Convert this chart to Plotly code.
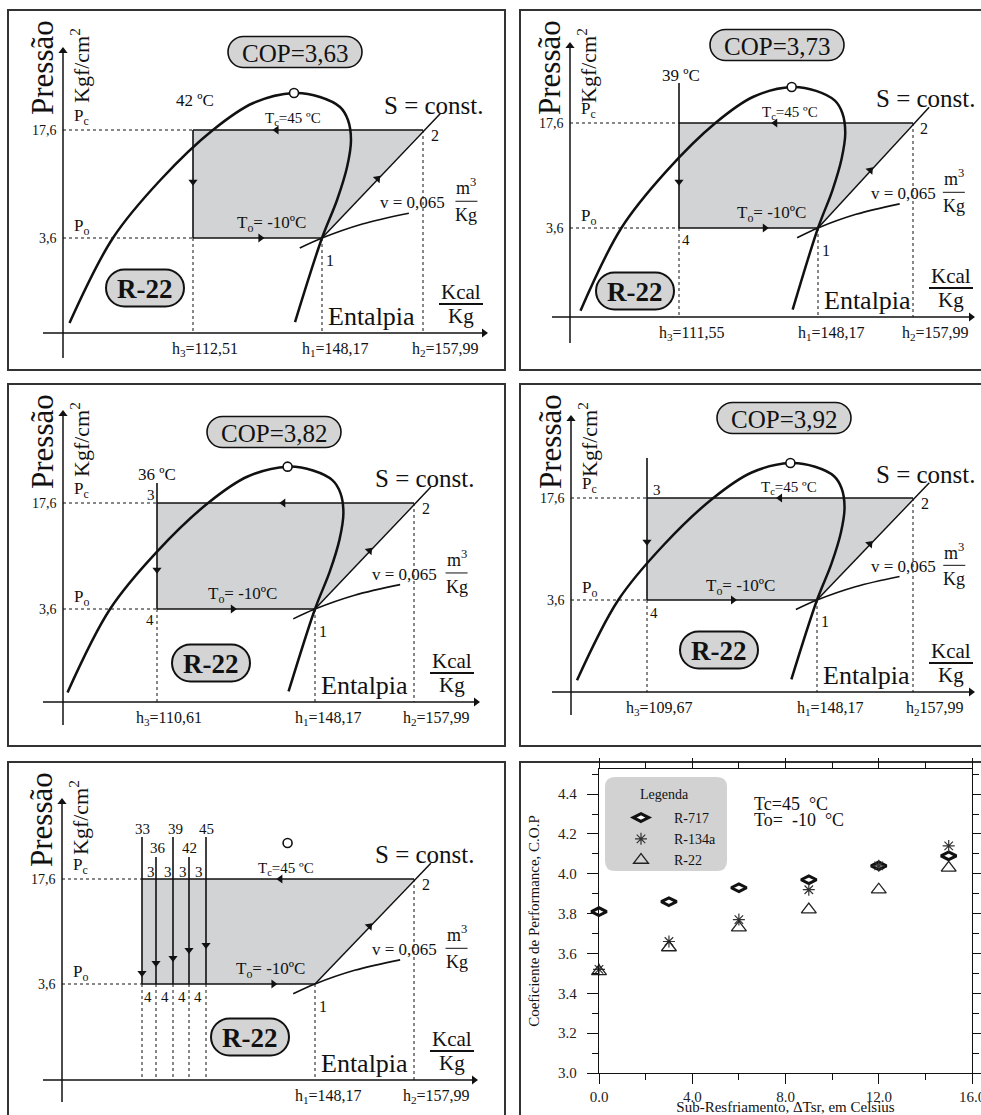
import math
import plotly.graph_objects as go

# ---------------- data ----------------
SUBCOOLING = [0, 3, 6, 9, 12, 15]
COP_R717 = [3.81, 3.86, 3.93, 3.97, 4.04, 4.09]
COP_R134A = [3.52, 3.66, 3.77, 3.92, 4.04, 4.14]
COP_R22 = [3.51, 3.63, 3.73, 3.82, 3.92, 4.03]
SERIES = ['R-717', 'R-134a', 'R-22']

PANEL_COP = ['COP=3,63', 'COP=3,73', 'COP=3,82', 'COP=3,92', None]
PANEL_TEMPS = [['42 ºC'], ['39 ºC'], ['36 ºC'], [], ['33', '36', '39', '42', '45']]
PANEL_H3 = ['h<sub>3</sub>=112,51', 'h<sub>3</sub>=111,55', 'h<sub>3</sub>=110,61', 'h<sub>3</sub>=109,67', None]
PANEL_H1 = ['h<sub>1</sub>=148,17'] * 5
PANEL_H2 = ['h<sub>2</sub>=157,99', 'h<sub>2</sub>=157,99', 'h<sub>2</sub>=157,99', 'h<sub>2</sub>157,99', 'h<sub>2</sub>=157,99']
PC_TXT = '17,6'
PO_TXT = '3,6'
TC_TXT = 'T<sub>c</sub>=45 ºC'
TO_TXT = 'T<sub>o</sub>= -10ºC'
V_TXT = 'v = 0,065'
GAS = 'R-22'

# ---------------- schematic geometry (positions) ----------------
W, H = 981, 1115
FONT = 'Liberation Serif, Times New Roman, serif'
INK = '#111111'

# saturation dome, in units relative to h1/h2 (u) and Pc/Po (v)
DOME_U = [-2.5, -2.07, -1.6, -1.08, -0.68, -0.277, -0.02, 0.178, 0.257, 0.287, 0.248, 0.149, 0.0, -0.267]
DOME_V = [1.787, 1.0, 0.463, 0.0, -0.25, -0.343, -0.306, -0.213, -0.093, 0.093, 0.343, 0.648, 1.0, 1.778]
VCURVE_U = [-0.22, 0.0, 0.4, 0.86]
VCURVE_V = [1.093, 1.0, 0.87, 0.77]

PANELS = [
    dict(box=(8, 10, 505, 370), X0=63, YT=47, YB=358, YX=333, XA0=43, XA1=488, Pc=130, Po=238,
         h3=[193], h1=322, h2=423, cop=(295, 52), gas=(145, 288),
         top_u=-0.45, bot_u=-0.61, to_u=-0.5, arr_v=[0.48], tc=True, dome=True,
         vtop=[130], temp_xy=[(195, 100)], n3=[], n4=[]),
    dict(box=(520, 10, 1017, 370), X0=570, YT=42, YB=343, YX=317, XA0=552, XA1=975, Pc=123, Po=228,
         h3=[679], h1=818, h2=913, cop=(777, 45), gas=(635, 291),
         top_u=-0.45, bot_u=-0.56, to_u=-0.49, arr_v=[0.56], tc=True, dome=True,
         vtop=[83], temp_xy=[(681, 75)], n3=[], n4=[(686, 240)]),
    dict(box=(8, 384, 505, 746), X0=63, YT=410, YB=725, YX=702, XA0=43, XA1=480, Pc=503, Po=609,
         h3=[157], h1=315, h2=414, cop=(274, 432), gas=(211, 663),
         top_u=-0.32, bot_u=-0.83, to_u=-0.73, arr_v=[0.63], tc=False, dome=True,
         vtop=[483], temp_xy=[(157, 474)], n3=[(151, 495)], n4=[(150, 620)]),
    dict(box=(520, 384, 1017, 746), X0=571, YT=415, YB=715, YX=692, XA0=552, XA1=975, Pc=498, Po=600,
         h3=[647], h1=817, h2=913, cop=(784, 418), gas=(719, 650),
         top_u=-0.385, bot_u=-0.875, to_u=-0.8, arr_v=[0.43], tc=True, dome=True,
         vtop=[458], temp_xy=[], n3=[(657, 490)], n4=[(654, 613)]),
    dict(box=(8, 762, 505, 1130), X0=62, YT=798, YB=1102, YX=1080, XA0=43, XA1=478, Pc=879, Po=984,
         h3=[142, 156, 173, 189, 206], h1=315, h2=414, cop=None, gas=(250, 1037),
         top_u=-0.35, bot_u=-0.42, to_u=-0.45, arr_v=[0.895, 0.8, 0.752, 0.676, 0.629], tc=True, dome=False,
         vtop=[837, 857, 837, 857, 837],
         temp_xy=[(142, 829), (158, 848), (175, 829), (189, 848), (206, 829)],
         n3=[(151, 872), (168, 872), (183, 872), (199, 872)],
         n4=[(148, 997), (165, 997), (182, 997), (198, 997)]),
]

fig = go.Figure()
shapes = []
annotations = []


def L(xs, ys, w=1.5, dash='solid', shape='linear', color=INK):
    fig.add_trace(go.Scatter(x=xs, y=ys, mode='lines', xaxis='x', yaxis='y',
                             line=dict(color=color, width=w, dash=dash, shape=shape),
                             hoverinfo='skip', showlegend=False))


def M(x, y, symbol, size=8, angle=0, fill=INK, lw=0):
    fig.add_trace(go.Scatter(x=[x], y=[y], mode='markers', xaxis='x', yaxis='y',
                             marker=dict(symbol=symbol, size=size, angle=angle, color=fill,
                                         line=dict(color=INK, width=lw)),
                             hoverinfo='skip', showlegend=False))


def T(x, y, text, size=15, xanchor='center', yanchor='middle', angle=0):
    annotations.append(dict(x=x, y=y, xref='x', yref='y', text=text, showarrow=False,
                            font=dict(family=FONT, size=size, color=INK),
                            xanchor=xanchor, yanchor=yanchor, textangle=angle))


def pill(cx, cy, w, h):
    r = h / 2.0
    k = 0.5523 * r
    x0, x1, y0, y1 = cx - w / 2, cx + w / 2, cy - h / 2, cy + h / 2
    return (f"M {x0 + r},{y0} L {x1 - r},{y0} "
            f"C {x1 - r + k},{y0} {x1},{cy - k} {x1},{cy} "
            f"C {x1},{cy + k} {x1 - r + k},{y1} {x1 - r},{y1} "
            f"L {x0 + r},{y1} "
            f"C {x0 + r - k},{y1} {x0},{cy + k} {x0},{cy} "
            f"C {x0},{cy - k} {x0 + r - k},{y0} {x0 + r},{y0} Z")


for i, p in enumerate(PANELS):
    X0, YT, YB, YX, XA0, XA1 = p['X0'], p['YT'], p['YB'], p['YX'], p['XA0'], p['XA1']
    Pc, Po, h1, h2, h3 = p['Pc'], p['Po'], p['h1'], p['h2'], p['h3']
    hl = h3[0]

    def uv(u, v):
        return h1 + u * (h2 - h1), Pc + v * (Po - Pc)

    bx0, by0, bx1, by1 = p['box']
    shapes.append(dict(type='rect', xref='x', yref='y', x0=bx0, y0=by0, x1=bx1, y1=by1,
                       line=dict(color='#333333', width=2), layer='below'))

    # shaded cycle area
    fig.add_trace(go.Scatter(x=[hl, h2, h1, hl, hl], y=[Pc, Pc, Po, Po, Pc], mode='lines',
                             fill='toself', fillcolor='#d1d3d4', line=dict(width=0),
                             xaxis='x', yaxis='y', hoverinfo='skip', showlegend=False))

    # dotted guide lines
    L([X0, hl], [Pc, Pc], w=1, dash='dot')
    L([X0, hl], [Po, Po], w=1, dash='dot')
    for hx in h3:
        L([hx, hx], [Po, YX], w=1, dash='dot')
    L([h1, h1], [Po, YX], w=1, dash='dot')
    L([h2, h2], [Pc, YX], w=1, dash='dot')

    # axes with arrowheads
    L([X0, X0], [YB, YT + 4], w=1.5)
    M(X0, YT + 4, 'triangle-up', 8)
    L([XA0, XA1 - 4], [YX, YX], w=1.5)
    M(XA1 - 4, YX, 'triangle-right', 8)

    # cycle lines
    L([hl, h2], [Pc, Pc], w=1.6)
    L([hl, h1], [Po, Po], w=1.6)
    ex, ey = uv(1.17, -0.15)
    L([h1, ex], [Po, ey], w=1.5)
    for hx, vt in zip(h3, p['vtop']):
        L([hx, hx], [vt, Po], w=1.6)

    # flow arrows
    M(uv(p['top_u'], 0)[0], Pc, 'triangle-left', 8)
    M(uv(p['bot_u'], 1)[0], Po, 'triangle-right', 8)
    for hx, av in zip(h3, p['arr_v']):
        M(hx, Pc + av * (Po - Pc), 'triangle-down', 8)
    sx, sy = h1 + 0.55 * (h2 - h1), Po + 0.55 * (Pc - Po)
    ang = math.degrees(math.atan2(h2 - h1, Po - Pc))
    M(sx, sy, 'triangle-up', 8, angle=ang)

    # specific volume curve
    L([uv(u, v)[0] for u, v in zip(VCURVE_U, VCURVE_V)],
      [uv(u, v)[1] for u, v in zip(VCURVE_U, VCURVE_V)], w=1.6, shape='spline')

    # saturation dome
    if p['dome']:
        L([uv(u, v)[0] for u, v in zip(DOME_U, DOME_V)],
          [uv(u, v)[1] for u, v in zip(DOME_U, DOME_V)], w=2.5, shape='spline')
    cx, cy = uv(-0.277, -0.343)
    M(cx, cy, 'circle', 9, fill='white', lw=1.6)

    # pills
    if PANEL_COP[i]:
        ccx, ccy = p['cop']
        shapes.append(dict(type='path', xref='x', yref='y', path=pill(ccx, ccy, 134, 31),
                           fillcolor='#d4d4d4', line=dict(color=INK, width=1.6), layer='below'))
        T(ccx, ccy + 1, PANEL_COP[i], 25)
    gx, gy = p['gas']
    shapes.append(dict(type='path', xref='x', yref='y', path=pill(gx, gy, 78, 37),
                       fillcolor='#d4d4d4', line=dict(color=INK, width=2), layer='below'))
    T(gx, gy + 1, f'<b>{GAS}</b>', 27)

    # axis texts
    by_top = p['box'][1]
    T(X0 - 21, by_top + 58, 'Pressão', 31, angle=-90)
    T(X0 + 17, by_top + 56, 'Kgf/cm<sup>2</sup>', 22, angle=-90)
    T(X0 - 4, Pc, PC_TXT, 14, xanchor='right')
    T(X0 - 4, Po, PO_TXT, 14, xanchor='right')
    T(X0 + 9, Pc - 13, 'P<sub>c</sub>', 17, xanchor='left')
    T(X0 + 9, Po - 11, 'P<sub>o</sub>', 17, xanchor='left')
    T(h1 + 4, YX - 17, 'Entalpia', 26, xanchor='left')
    kx = h2 + 38
    T(kx, YX - 41, 'Kcal', 21)
    L([kx - 22, kx + 22], [YX - 29, YX - 29], w=1.8)
    T(kx, YX - 17, 'Kg', 21)

    # enthalpy labels
    if PANEL_H3[i]:
        T(hl + 12, YX + 16, PANEL_H3[i], 16)
    T(h1 + 13, YX + 16, PANEL_H1[i], 16)
    T(h2 + 22, YX + 16, PANEL_H2[i], 16)

    # cycle texts
    T(*uv(0.59, -0.23), 'S = const.', 25, xanchor='left')
    T(*uv(1.12, 0.05), '2', 16)
    T(*uv(0.08, 1.21), '1', 16)
    T(*uv(0.9, 0.675), V_TXT, 17)
    mx, _ = uv(1.43, 0)
    T(mx, uv(0, 0.52)[1], 'm<sup>3</sup>', 18)
    L([mx - 11, mx + 11], [uv(0, 0.66)[1]] * 2, w=1)
    T(mx, uv(0, 0.79)[1], 'Kg', 18)
    if p['tc']:
        T(*uv(-0.29, -0.1), TC_TXT, 15)
    T(uv(p['to_u'], 0)[0], uv(0, 0.87)[1], TO_TXT, 17)
    for (tx, ty), txt in zip(p['temp_xy'], PANEL_TEMPS[i]):
        T(tx, ty, txt, 17 if 'C' in txt else 15)
    for (tx, ty) in p['n3']:
        T(tx, ty, '3', 15)
    for (tx, ty) in p['n4']:
        T(tx, ty, '4', 15)

# frame of the scatter panel
shapes.append(dict(type='rect', xref='x', yref='y', x0=520, y0=762, x1=1017, y1=1130,
                   line=dict(color='#333333', width=2), layer='below'))
# legend background (rounded)
lx0, ly0, lx1, ly1, rr = 605, 777, 727, 871, 10
shapes.append(dict(type='path', xref='x', yref='y', layer='below', fillcolor='#d2d2d2',
                   line=dict(width=0),
                   path=(f"M {lx0 + rr},{ly0} L {lx1 - rr},{ly0} Q {lx1},{ly0} {lx1},{ly0 + rr} "
                         f"L {lx1},{ly1 - rr} Q {lx1},{ly1} {lx1 - rr},{ly1} L {lx0 + rr},{ly1} "
                         f"Q {lx0},{ly1} {lx0},{ly1 - rr} L {lx0},{ly0 + rr} Q {lx0},{ly0} {lx0 + rr},{ly0} Z")))
T(664, 794, 'Legenda', 14)
T(752, 804, 'Tc=45  °C', 18, xanchor='left')
T(752, 820, 'To=  -10  °C', 18, xanchor='left')

# ---------------- scatter chart ----------------
fig.add_trace(go.Scatter(x=SUBCOOLING, y=COP_R717, mode='markers', name=SERIES[0],
                         xaxis='x2', yaxis='y2', cliponaxis=False,
                         marker=dict(symbol='diamond-wide', size=11, color='white',
                                     line=dict(color=INK, width=3))))
fig.add_trace(go.Scatter(x=SUBCOOLING, y=COP_R134A, mode='markers', name=SERIES[1],
                         xaxis='x2', yaxis='y2', cliponaxis=False,
                         marker=dict(symbol='asterisk-open', size=10, color='#333333',
                                     line=dict(color='#333333', width=1.2))))
fig.add_trace(go.Scatter(x=SUBCOOLING, y=COP_R22, mode='markers', name=SERIES[2],
                         xaxis='x2', yaxis='y2', cliponaxis=False,
                         marker=dict(symbol='triangle-up-open', size=13, color='#222222',
                                     line=dict(color='#222222', width=1.3))))

tickfont = dict(family=FONT, size=15, color='#222222')
fig.update_layout(
    width=W, height=H,
    margin=dict(l=0, r=0, t=0, b=0, autoexpand=False),
    paper_bgcolor='white', plot_bgcolor='rgba(0,0,0,0)',
    shapes=shapes, annotations=annotations,
    xaxis=dict(domain=[0, 1], range=[0, W], visible=False, fixedrange=True, anchor='y',
               automargin=False),
    yaxis=dict(domain=[0, 1], range=[H, 0], visible=False, fixedrange=True, anchor='x',
               automargin=False),
    xaxis2=dict(domain=[599 / W, 972 / W], anchor='y2', range=[0, 16], tick0=0, dtick=4,
                tickformat='.1f', showline=True, linecolor=INK, linewidth=1.4, mirror='ticks',
                ticks='outside', ticklen=10, tickwidth=1.3, tickcolor=INK, showgrid=False,
                zeroline=False, tickfont=tickfont, automargin=False, ticklabeloverflow='allow',
                minor=dict(dtick=2, ticks='outside', ticklen=6, tickwidth=1.3, tickcolor=INK),
                title=dict(text='Sub-Resfriamento, ΔTsr, em Celsius',
                           font=dict(family=FONT, size=15, color=INK), standoff=13)),
    yaxis2=dict(domain=[1 - 1073 / H, 1 - 769 / H], anchor='x2', range=[3.0, 4.526], tick0=3.0,
                dtick=0.2, tickformat='.1f', showline=True, linecolor=INK, linewidth=1.4,
                mirror='ticks', ticks='outside', ticklen=11, tickwidth=1.3, tickcolor=INK,
                showgrid=False, zeroline=False, tickfont=tickfont, automargin=False,
                ticklabelstandoff=7,
                minor=dict(dtick=0.1, ticks='outside', ticklen=6, tickwidth=1.3, tickcolor=INK),
                title=dict(text='Coeficiente de Performance, C.O.P',
                           font=dict(family=FONT, size=15, color=INK), standoff=14)),
    showlegend=True,
    legend=dict(x=608 / W, y=1 - 802 / H, xanchor='left', yanchor='top',
                bgcolor='rgba(0,0,0,0)', itemwidth=56, tracegroupgap=0,
                font=dict(family=FONT, size=14, color=INK)),
)

fig.write_html('out.html', config={'displayModeBar': False},
               post_script="document.body.style.margin='0px';document.body.style.overflow='hidden';")
